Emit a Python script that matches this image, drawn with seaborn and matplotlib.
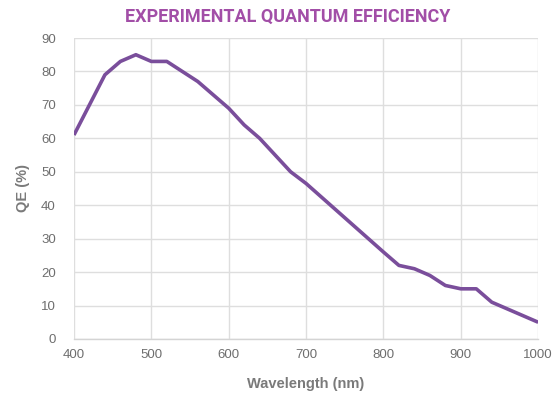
import matplotlib
matplotlib.use("Agg")
import matplotlib.pyplot as plt
import seaborn as sns
import pandas as pd

wavelength = [400, 440, 460, 480, 500, 520, 560, 600, 620, 640, 680, 700, 800,
              820, 840, 860, 880, 900, 920, 940, 1000]
qe = [61, 79, 83, 85, 83, 83, 77, 69, 64, 60, 50, 46.5, 26,
      22, 21, 19, 16, 15, 15, 11, 5]
x_ticks = [400, 500, 600, 700, 800, 900, 1000]
y_ticks = [0, 10, 20, 30, 40, 50, 60, 70, 80, 90]

df = pd.DataFrame({"Wavelength": wavelength, "QE": qe})

sns.set_theme(style="whitegrid")
plt.rcParams['font.family'] = ['Liberation Sans', 'DejaVu Sans']

fig = plt.figure(figsize=(5.52, 3.96), dpi=100)
ax = fig.add_axes([0.134, 0.144, 0.841, 0.760])

sns.lineplot(data=df, x="Wavelength", y="QE", ax=ax, color="#7a4e9b",
             linewidth=2.6, solid_joinstyle="round", solid_capstyle="butt")

ax.set_xlim(400, 1000)
ax.set_ylim(0, 90)
ax.set_xticks(x_ticks)
ax.set_yticks(y_ticks)
ax.grid(True, color="#dedede", linewidth=1.0)
for s in ["top", "right", "left"]:
    ax.spines[s].set_visible(False)
ax.spines["bottom"].set_color("#d4d4d4")
ax.spines["bottom"].set_linewidth(1.0)
ax.tick_params(axis="both", length=0, labelsize=9.5, labelcolor="#6e6e6e", pad=7)
ax.tick_params(axis="y", pad=13)

ax.set_xlabel("Wavelength (nm)", fontsize=10.5, fontweight="bold", color="#7a7a7a", labelpad=12)
ax.set_ylabel("QE (%)", fontsize=10.5, fontweight="bold", color="#7a7a7a", labelpad=8)

fig.text(0.522, 0.958, "EXPERIMENTAL QUANTUM EFFICIENCY", ha="center", va="center",
         fontsize=13, fontweight="bold", color="#a24ea7", family=["Roboto", "DejaVu Sans"])

fig.savefig("out.png", dpi=100)
